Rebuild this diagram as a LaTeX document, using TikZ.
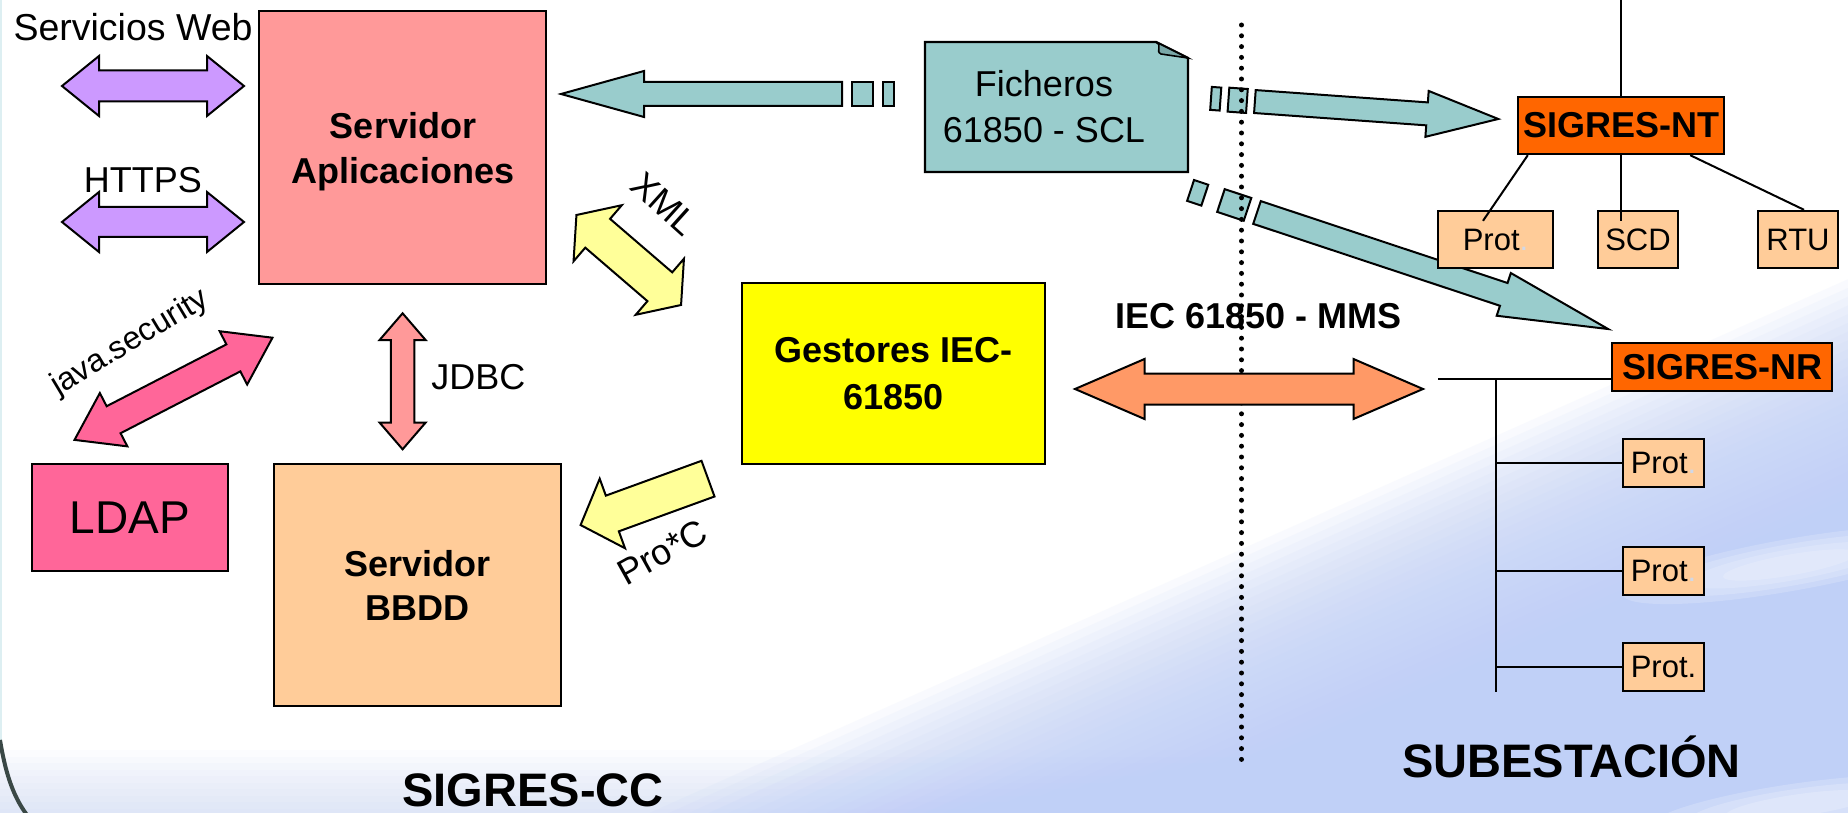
\documentclass[tikz,border=0pt]{standalone}
\usepackage{fontspec}
\setmainfont{Liberation Sans}
\usetikzlibrary{calc}
\definecolor{srvpink}{HTML}{FF9999}
\definecolor{bbddc}{HTML}{FFCC99}
\definecolor{ldapc}{HTML}{FF6699}
\definecolor{gestc}{HTML}{FFFF00}
\definecolor{tealc}{HTML}{99CCCC}
\definecolor{tealdk}{HTML}{7AA8A8}
\definecolor{orgc}{HTML}{FF6600}
\definecolor{purpc}{HTML}{CC99FF}
\definecolor{ylwc}{HTML}{FFFF99}
\definecolor{mmsc}{HTML}{FF9966}
\definecolor{bgblue}{HTML}{C0D0F7}
\definecolor{faintdot}{HTML}{D0D8E8}
\definecolor{curvec}{HTML}{3A4846}
\definecolor{edgec}{HTML}{DDEFF2}

% double block arrow: style, center, rotate, half length, head length, head half width, shaft half width
\newcommand\blockdbl[7]{%
  \begin{scope}[shift={#2},rotate=#3]
    \draw[#1] (-#4,0) -- ({-#4+#5},-#6) -- ({-#4+#5},-#7) -- ({#4-#5},-#7) -- ({#4-#5},-#6) -- (#4,0)
      -- ({#4-#5},#6) -- ({#4-#5},#7) -- ({-#4+#5},#7) -- ({-#4+#5},#6) -- cycle;
  \end{scope}}
% single block arrow (tip at +half length)
\newcommand\blocksgl[7]{%
  \begin{scope}[shift={#2},rotate=#3]
    \draw[#1] (-#4,-#7) -- ({#4-#5},-#7) -- ({#4-#5},-#6) -- (#4,0) -- ({#4-#5},#6) -- ({#4-#5},#7) -- (-#4,#7) -- cycle;
  \end{scope}}

\tikzset{
  box/.style={draw, line width=2.4pt, inner sep=0pt, align=center},
  bigb/.style={font=\fontsize{36}{45}\selectfont\bfseries, inner sep=0pt},
  lbl/.style={font=\fontsize{36}{46}\selectfont, inner sep=0pt},
  smalltxt/.style={font=\fontsize{31}{36}\selectfont},
  titletxt/.style={font=\fontsize{47}{56}\selectfont\bfseries, inner sep=0pt},
  blk/.style={draw, line width=2pt, line join=miter},
  tree/.style={line width=2pt},
}

\begin{document}
\begin{tikzpicture}[x=1pt,y=-1pt]
\useasboundingbox (0,0) rectangle (1848,813);

% ---------- background ----------
\begin{scope}
  \clip (0,0) rectangle (1848,813);
  \fill[white] (0,0) rectangle (1848,813);
  \begin{scope}[shift={(1400,610)}, rotate=24]
    \foreach \i in {0,...,29} { \fill[bgblue, fill opacity=0.09] (-2400,{-120+8*\i}) rectangle (2400,1000); }
  \end{scope}
  \foreach \i in {0,...,9} { \fill[bgblue, fill opacity=0.06] (0,{750+6.5*\i}) rectangle (1848,813); }
  % lighter streaks inside the blue
  \begin{scope}[shift={(1790,565)}, rotate=10]
    \foreach \r in {1,0.8,0.6,0.4} { \fill[white, fill opacity=0.18] (0,0) ellipse ({170*\r} and {26*\r}); }
  \end{scope}
  \begin{scope}[shift={(1800,805)}, rotate=8]
    \foreach \r in {1,0.75,0.5} { \fill[white, fill opacity=0.2] (0,0) ellipse ({150*\r} and {22*\r}); }
  \end{scope}
  \draw[edgec, line width=2.5pt] (1.2,0) -- (1.2,740);
  \draw[curvec, line width=4pt] (0,740) .. controls (5,770) and (12,795) .. (27,815);
\end{scope}

% ---------- left side ----------
\node[font=\fontsize{37.5}{46}\selectfont, inner sep=0pt, anchor=base] (sw) at (133,41) {Servicios Web};
\node[lbl, anchor=base] (https) at (143,193) {HTTPS};
\blockdbl{blk,fill=purpc}{(153,86)}{0}{91}{37}{30}{15.5}
\blockdbl{blk,fill=purpc}{(153,222)}{0}{91}{37}{30}{15}

\node[box, fill=srvpink, minimum width=287, minimum height=273] (srvapp) at (402.5,147.5) {};
\node[bigb, align=center] (srvtxt) at (403,151.3) {Servidor\\Aplicaciones};

\node[box, fill=ldapc, minimum width=196.5, minimum height=107, font=\fontsize{46}{52}\selectfont] (ldap) at (130,517.5) {LDAP};
\blockdbl{blk,fill=ldapc}{(173.5,388.8)}{27.3}{111.4}{44}{30}{15.2}
\node[font=\fontsize{32}{38}\selectfont, inner sep=0pt, rotate=31] (jsec) at (130,343) {java.security};

\node[box, fill=bbddc, minimum width=287, minimum height=242, font=\fontsize{36}{44}\selectfont\bfseries] (bbdd) at (417.5,585) {Servidor\\BBDD};
\blockdbl{blk,fill=srvpink}{(402.6,381.3)}{90}{68}{26.7}{23}{11.8}
\node[lbl, anchor=base] (jdbc) at (478.3,389.3) {JDBC};

% ---------- centre ----------
\node[box, fill=gestc, minimum width=303, minimum height=181, font=\fontsize{36}{47}\selectfont\bfseries] (gest) at (893.5,373.5) {Gestores IEC-\\61850};
\blockdbl{blk,fill=ylwc}{(628.75,260)}{-40.7}{69}{28}{37}{19}
\node[lbl, rotate=-42] (xml) at (664,204) {XML};
\blocksgl{blk,fill=ylwc}{(644.3,501.85)}{-160}{67.8}{33.8}{37}{19}
\node[lbl, rotate=29] (proc) at (662,552) {Pro*C};

% Ficheros document
\draw[line width=2.4pt, fill=tealc] (925,42) -- (1156,42) -- (1188,58) -- (1188,172) -- (925,172) -- cycle;
\draw[line width=1.6pt, fill=tealdk] (1156,42) .. controls (1163,46) and (1155,51) .. (1161,54) -- (1188,58) -- cycle;
\node[lbl, align=center] (fich) at (1044,107.1) {Ficheros\\61850 - SCL};

% teal arrow to Servidor Aplicaciones
\draw[blk, fill=tealc] (561,94) -- (644,71) -- (644,82) -- (842,82) -- (842,106) -- (644,106) -- (644,117) -- cycle;
\draw[blk, fill=tealc] (852,82) rectangle (873,106);
\draw[blk, fill=tealc] (883,82) rectangle (894,106);

% teal arrow to SIGRES-NT
\begin{scope}[shift={(1211,98.4)}, rotate=-4.1]
  \draw[blk, fill=tealc] (0,-11.5) rectangle (9.5,11.5);
  \draw[blk, fill=tealc] (17.5,-12) rectangle (36,12);
  \draw[blk, fill=tealc] (44,-11.5) -- (216.6,-11.5) -- (216.6,-23) -- (288,0) -- (216.6,23) -- (216.6,11.5) -- (44,11.5) -- cycle;
\end{scope}
% teal arrow to SIGRES-NR
\begin{scope}[shift={(1257,212.5)}, rotate=-18.36]
  \draw[blk, fill=tealc] (-70,-11) rectangle (-55,11);
  \draw[blk, fill=tealc] (-38,-12) rectangle (-10,12);
  \draw[blk, fill=tealc] (0,-12) -- (260,-12) -- (260,-22.5) -- (370,0) -- (260,22.5) -- (260,12) -- (0,12) -- cycle;
\end{scope}

\node[bigb, anchor=base] (mms) at (1258.5,328) {IEC 61850 - MMS};

% dotted border
\coordinate (dtop) at (1241.5,25);
\coordinate (dbot) at (1241.5,762);
\draw[line width=5pt, line cap=round, dash pattern=on 0pt off 10.8pt] (dtop) -- (dbot);

\blockdbl{blk,fill=mmsc}{(1249,389)}{0}{174}{69.5}{30}{15.5}

% ---------- substation tree ----------
\node[box, fill=orgc, minimum width=206, minimum height=57, bigb] (nt) at (1621,125.5) {SIGRES-NT};
\coordinate (nttop) at (1621,0);
\draw[tree] (nttop) -- (nt.north);
\node[box, fill=bbddc, minimum width=115, minimum height=57, smalltxt] (p0) at (1495.5,239.5) {Prot\textcolor{faintdot}{.}};
\node[box, fill=bbddc, minimum width=80, minimum height=57, smalltxt] (scd) at (1638,239.5) {SCD};
\node[box, fill=bbddc, minimum width=80, minimum height=57, smalltxt] (rtu) at (1798,239.5) {RTU};
\draw[tree] ($(nt.south west)+(11,0)$) -- ($(p0.north)+(-12.5,11)$);
\draw[tree] (nt.south) -- ($(scd.north)+(-17,11)$);
\draw[tree] ($(nt.south east)+(-35,0)$) -- ($(rtu.north)+(6,0)$);

\node[box, fill=orgc, minimum width=220, minimum height=48, bigb] (nr) at (1722,367) {SIGRES-NR};
\coordinate (nrl) at (1438,379);
\draw[tree] (nrl) -- (nrl -| nr.west);
\coordinate (bt) at (1496,379);
\coordinate (bb) at (1496,692);
\draw[tree] (bt) -- (bb);
\node[box, fill=bbddc, minimum width=81, minimum height=48, smalltxt] (q1) at (1663.5,463) {Prot\textcolor{faintdot}{.}};
\node[box, fill=bbddc, minimum width=81, minimum height=48, smalltxt] (q2) at (1663.5,571) {Prot\textcolor{faintdot}{.}};
\node[box, fill=bbddc, minimum width=81, minimum height=48, smalltxt] (q3) at (1663.5,666.75) {Prot.};
\draw[tree] (bt |- q1.west) -- (q1.west);
\draw[tree] (bt |- q2.west) -- (q2.west);
\draw[tree] (bt |- q3.west) -- (q3.west);

% ---------- titles ----------
\node[titletxt, anchor=base] (sub) at (1571.5,777) {SUBESTACIÓN};
\node[titletxt, anchor=base] (cc) at (533,806) {SIGRES-CC};

\end{tikzpicture}
\end{document}
